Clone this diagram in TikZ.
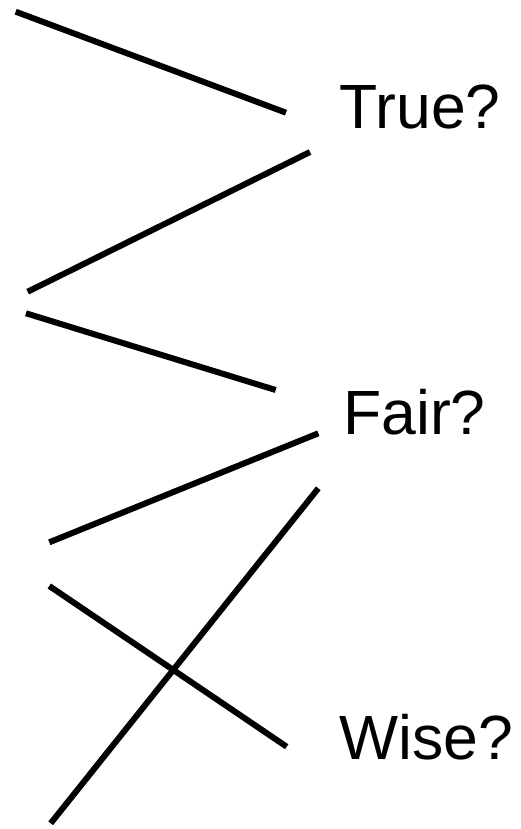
\documentclass[tikz,border=0pt]{standalone}
\usepackage{fontspec}
\setmainfont{Liberation Sans}
\usetikzlibrary{positioning}

\begin{document}
\begin{tikzpicture}[
			x=1pt,y=-1pt,
			question/.style={
				font=\fontsize{62.5}{75}\selectfont,
				anchor=base west,
				inner sep=0pt
			},
			stroke/.style={
				draw=black,
				line width=6pt
			}
			]
			\useasboundingbox (0,0) rectangle (520,829);

			% Fragen
			\node[question] (true) at (339.5,128.5) {True?};
			\node[question] (fair) at (343,434) {Fair?};
			\node[question] (wise) at (339.5,759) {Wise?};

			% Endpunkte der Striche
			\coordinate (a1) at (15.7,11.7);
			\coordinate (a2) at (286,112.7);
			\coordinate (b1) at (310,152);
			\coordinate (b2) at (27.7,291.7);
			\coordinate (c1) at (26,313.3);
			\coordinate (c2) at (275.7,390);
			\coordinate (d1) at (318.3,433.3);
			\coordinate (d2) at (49.3,542.3);
			\coordinate (e1) at (49.3,586);
			\coordinate (e2) at (286.7,746.7);
			\coordinate (f1) at (318.3,488.3);
			\coordinate (f2) at (50.7,823.3);

			\draw[stroke] (a1) -- (a2);
			\draw[stroke] (b1) -- (b2);
			\draw[stroke] (c1) -- (c2);
			\draw[stroke] (d1) -- (d2);
			\draw[stroke] (e1) -- (e2);
			\draw[stroke] (f1) -- (f2);

\end{tikzpicture}
\end{document}
